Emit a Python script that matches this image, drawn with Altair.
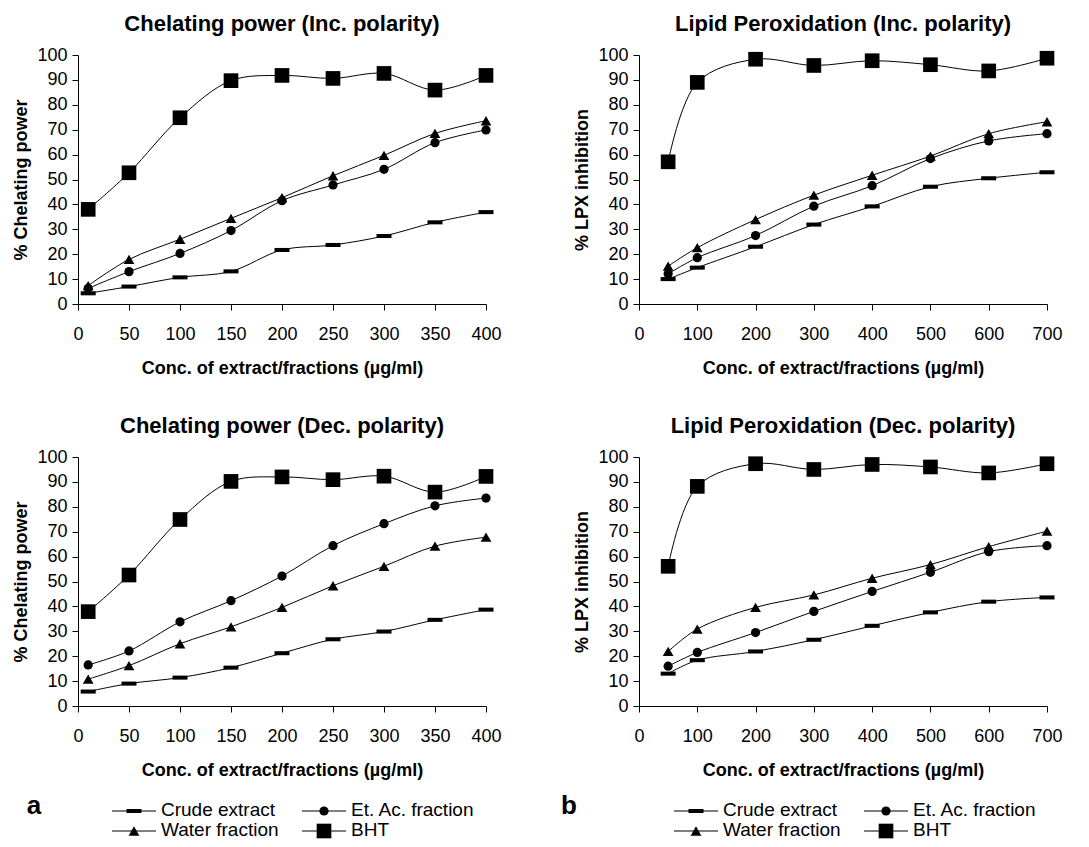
import altair as alt
import pandas as pd

# ---------------- data ----------------
series = ["Crude extract", "Et. Ac. fraction", "Water fraction", "BHT"]
chel_conc = [10, 50, 100, 150, 200, 250, 300, 350, 400]
lpx_conc = [50, 100, 200, 300, 400, 500, 600, 700]

chel_inc_crude = [4.3, 7.0, 10.7, 13.1, 21.7, 23.7, 27.3, 32.8, 36.9]
chel_inc_etac = [6.3, 13.0, 20.3, 29.5, 41.5, 47.8, 54.1, 64.8, 69.9]
chel_inc_water = [7.4, 17.9, 26.0, 34.4, 42.7, 51.5, 59.7, 68.5, 73.6]
chel_inc_bht = [38.0, 52.7, 74.8, 89.7, 91.8, 90.6, 92.6, 85.9, 91.8]

chel_dec_crude = [5.8, 9.0, 11.4, 15.4, 21.2, 26.8, 29.9, 34.6, 38.7]
chel_dec_etac = [16.5, 22.1, 33.8, 42.3, 52.2, 64.4, 73.2, 80.4, 83.5]
chel_dec_water = [10.8, 16.2, 25.0, 31.8, 39.6, 48.3, 56.1, 64.2, 67.8]
chel_dec_bht = [37.9, 52.6, 74.9, 90.2, 92.0, 90.9, 92.3, 85.9, 92.2]

lpx_inc_crude = [10.0, 14.6, 23.0, 31.9, 39.2, 47.1, 50.5, 52.9]
lpx_inc_etac = [12.1, 18.6, 27.5, 39.3, 47.5, 58.4, 65.5, 68.4]
lpx_inc_water = [15.2, 22.6, 33.9, 43.7, 51.7, 59.4, 68.4, 73.2]
lpx_inc_bht = [57.1, 89.0, 98.3, 95.8, 97.7, 96.1, 93.6, 98.7]

lpx_dec_crude = [13.0, 18.4, 21.9, 26.6, 32.2, 37.6, 41.9, 43.6]
lpx_dec_etac = [16.0, 21.5, 29.5, 38.0, 46.0, 53.7, 62.0, 64.4]
lpx_dec_water = [21.9, 30.9, 39.6, 44.6, 51.3, 56.8, 64.0, 70.2]
lpx_dec_bht = [56.1, 88.2, 97.3, 95.0, 97.0, 96.0, 93.6, 97.3]

chel_ticks = [0, 50, 100, 150, 200, 250, 300, 350, 400]
lpx_ticks = [0, 100, 200, 300, 400, 500, 600, 700]
y_ticks = [0, 10, 20, 30, 40, 50, 60, 70, 80, 90, 100]

x_title = "Conc. of extract/fractions (µg/ml)"
panel_labels = ["a", "b"]

# ---------------- styles ----------------
FONT = "Liberation Sans"
DASH = "M-1,-0.27L1,-0.27L1,0.27L-1,0.27Z"
SHAPES = {"Crude extract": DASH, "Et. Ac. fraction": "circle",
          "Water fraction": "triangle-up", "BHT": "square"}
SIZES = {"Crude extract": 225, "Et. Ac. fraction": 85,
         "Water fraction": 115, "BHT": 215}
PW, PH = 408, 249


def panel(xs, ys_list, title, ytitle, xmax, xticks):
    frames = []
    for s, ys in zip(series, ys_list):
        frames.append(pd.DataFrame({"conc": xs, "value": ys, "series": s}))
    df = pd.concat(frames, ignore_index=True)
    xenc = alt.X("conc:Q",
                 scale=alt.Scale(domain=[0, xmax], nice=False, zero=True),
                 axis=alt.Axis(values=xticks, title=x_title, labelFlush=False,
                               labelPadding=15, titlePadding=16, format="d"))
    yenc = alt.Y("value:Q",
                 scale=alt.Scale(domain=[0, 100], nice=False),
                 axis=alt.Axis(values=y_ticks, title=ytitle, labelPadding=5,
                               titlePadding=6, format="d"))
    base = alt.Chart(df)
    layers = [base.mark_line(interpolate="catmull-rom", color="black",
                             strokeWidth=1).encode(x=xenc, y=yenc, detail="series:N")]
    for s in series:
        layers.append(
            base.transform_filter(alt.datum.series == s)
            .mark_point(filled=True, color="black", opacity=1, shape=SHAPES[s],
                        size=SIZES[s], strokeWidth=0)
            .encode(x=xenc, y=yenc)
        )
    return alt.layer(*layers).properties(
        width=PW, height=PH,
        title=alt.TitleParams(title, font=FONT, fontSize=22, fontWeight="bold",
                              color="black", offset=10, anchor="middle"))


p1 = panel(chel_conc, [chel_inc_crude, chel_inc_etac, chel_inc_water, chel_inc_bht],
           "Chelating power (Inc. polarity)", "% Chelating power", 400, chel_ticks)
p2 = panel(lpx_conc, [lpx_inc_crude, lpx_inc_etac, lpx_inc_water, lpx_inc_bht],
           "Lipid Peroxidation (Inc. polarity)", "% LPX inhibition", 700, lpx_ticks)
p3 = panel(chel_conc, [chel_dec_crude, chel_dec_etac, chel_dec_water, chel_dec_bht],
           "Chelating power (Dec. polarity)", "% Chelating power", 400, chel_ticks)
p4 = panel(lpx_conc, [lpx_dec_crude, lpx_dec_etac, lpx_dec_water, lpx_dec_bht],
           "Lipid Peroxidation (Dec. polarity)", "% LPX inhibition", 700, lpx_ticks)

# ---------------- legend strip (layout in page pixels, relative to strip origin) ----------------
LW, LH = 1000, 57
LEFT0, TOP0 = 79, 782           # page position of the strip's origin
group_x = [113, 675]            # line start of first legend column, per group
letter_x = [35, 570]
col_dx = [0, 190]               # offset of second legend column
row_y = [810, 830]
LINE_LEN, TEXT_GAP = 44, 5

items = []
letters = []
for g in range(2):
    letters.append({"x": letter_x[g] - LEFT0, "y": 813 - TOP0, "label": panel_labels[g]})
    for i, s in enumerate(series):
        c, r = i % 2, i // 2
        x1 = group_x[g] + col_dx[c] - LEFT0
        items.append({"series": s, "x1": x1, "x2": x1 + LINE_LEN,
                      "xm": x1 + LINE_LEN / 2, "xt": x1 + LINE_LEN + TEXT_GAP,
                      "y": row_y[r] - TOP0})
leg_df = pd.DataFrame(items)
let_df = pd.DataFrame(letters)

lx = alt.Scale(domain=[0, LW], range=[0, LW], nice=False, zero=False)
ly = alt.Scale(domain=[0, LH], range=[0, LH], nice=False, zero=False)
lbase = alt.Chart(leg_df)
leg_layers = [
    lbase.mark_rule(color="black", strokeWidth=1).encode(
        x=alt.X("x1:Q", scale=lx, axis=None), x2="x2:Q",
        y=alt.Y("y:Q", scale=ly, axis=None)),
    lbase.mark_text(align="left", baseline="alphabetic", font=FONT, fontSize=19,
                    color="black", dy=5).encode(
        x=alt.X("xt:Q", scale=lx, axis=None), y=alt.Y("y:Q", scale=ly, axis=None),
        text="series:N"),
    alt.Chart(let_df).mark_text(align="center", baseline="alphabetic", font=FONT,
                                fontSize=26, fontWeight="bold", color="black").encode(
        x=alt.X("x:Q", scale=lx, axis=None), y=alt.Y("y:Q", scale=ly, axis=None),
        text="label:N"),
]
for s in series:
    leg_layers.append(
        lbase.transform_filter(alt.datum.series == s)
        .mark_point(filled=True, color="black", opacity=1, shape=SHAPES[s],
                    size=SIZES[s], strokeWidth=0)
        .encode(x=alt.X("xm:Q", scale=lx, axis=None), y=alt.Y("y:Q", scale=ly, axis=None))
    )
legend = alt.layer(*leg_layers).properties(width=LW, height=LH)

panels = alt.vconcat(
    alt.hconcat(p1, p2, spacing=71),
    alt.hconcat(p3, p4, spacing=71),
    spacing=38,
)
chart = alt.vconcat(panels, legend, spacing=4).properties(
    padding={"left": 4, "top": 5, "right": 0, "bottom": 0}
).configure_view(stroke=None).configure_axis(
    grid=False, domainColor="black", tickColor="black", labelColor="black",
    titleColor="black", labelFont=FONT, titleFont=FONT, labelFontSize=18,
    titleFontSize=18, titleFontWeight="bold", tickSize=6, domainWidth=1, tickWidth=1
)

chart.save("out.html", embed_options={"renderer": "svg", "actions": False})
